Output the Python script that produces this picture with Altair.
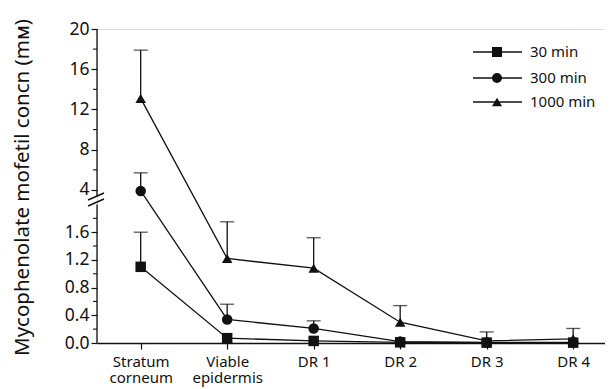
import altair as alt
import pandas as pd

categories = ["Stratum corneum", "Viable epidermis", "DR 1", "DR 2", "DR 3", "DR 4"]
series = ["30 min", "300 min", "1000 min"]
shapes = ["square", "circle", "triangle-up"]

mean_30 = [1.10, 0.07, 0.03, 0.01, 0.005, 0.005]
upper_30 = [1.60, None, None, None, None, None]
mean_300 = [3.90, 0.34, 0.21, 0.02, 0.01, 0.01]
upper_300 = [5.70, 0.56, 0.32, None, None, None]
mean_1000 = [13.1, 1.22, 1.08, 0.30, 0.03, 0.06]
upper_1000 = [17.9, 1.75, 1.52, 0.54, 0.16, 0.21]

major_ticks = [0, 0.4, 0.8, 1.2, 1.6, 4, 8, 12, 16, 20]
minor_ticks = [0.2, 0.6, 1.0, 1.4, 1.8, 6, 10, 14, 18]

# broken axis: lower segment 0-2.0, upper segment 3.4-20
y_domain = [0, 2.0, 3.4, 20]
y_range = [314, 175.5, 167, 0]
axis_segments = [(0, 2.0), (3.4, 20)]

rows = []
for s, means, ups in [("30 min", mean_30, upper_30),
                      ("300 min", mean_300, upper_300),
                      ("1000 min", mean_1000, upper_1000)]:
    for i, (c, m, u) in enumerate(zip(categories, means, ups)):
        rows.append({"idx": i, "cat": c, "series": s, "mean": m, "upper": u})
df = pd.DataFrame(rows)
err_df = df.dropna(subset=["upper"])

FONT = "Noto Sans"
INK = "#111111"

yscale = alt.Scale(domain=y_domain, range=y_range, nice=False, zero=False)
xscale = alt.Scale(domain=[-0.505, 5.368], nice=False, zero=False)

def js_label(c):
    if c.startswith("DR"):
        return "'" + c + "'"
    return "[" + ",".join("'" + p + "'" for p in c.split(" ")) + "]"

label_expr = "[" + ",".join(js_label(c) for c in categories) + "][datum.value]"

x_enc = alt.X(
    "idx:Q", scale=xscale, title=None,
    axis=alt.Axis(
        values=list(range(len(categories))), grid=False, tickCount=20,
        labelAngle=0, labelFont=FONT, labelFontSize=15, labelColor=INK,
        tickSize=6, tickColor=INK, tickWidth=1.2, domainColor=INK, domainWidth=1.3,
        labelPadding=5, labelLineHeight=16, labelOverlap=False, labelFlush=False,
        labelExpr=label_expr,
    ),
)
x_plain = alt.X("idx:Q", scale=xscale)
y_plain = alt.Y("mean:Q", scale=yscale)

shape_scale = alt.Scale(domain=series, range=shapes)

lines = alt.Chart(df).mark_line(color=INK, strokeWidth=1.3).encode(
    x=x_enc,
    y=alt.Y(
        "mean:Q", scale=yscale,
        title="Mycophenolate mofetil concn (mᴍ)",
        axis=alt.Axis(
            values=major_ticks, tickCount=30, domain=False, grid=False,
            labelOverlap=False, labelFlush=False, labelBound=False,
            labelExpr="datum.value < 3 ? format(datum.value, '.1f') : format(datum.value, 'd')",
            labelFont=FONT, labelFontSize=17.5, labelColor=INK, labelPadding=2,
            tickSize=6, tickColor=INK, tickWidth=1.2,
            titleFont=FONT, titleFontSize=20.5, titleFontWeight="normal", titleColor=INK,
            titleAngle=270, titleBaseline="middle", titleX=-75, titleY=158,
        ),
    ),
    detail="series:N",
)

points = alt.Chart(df).mark_point(filled=True, opacity=1, color=INK, size=110).encode(
    x=x_plain,
    y=y_plain,
    shape=alt.Shape("series:N", scale=shape_scale, legend=None),
)

err = alt.Chart(err_df).mark_rule(color=INK, strokeWidth=1.3).encode(
    x=x_plain,
    y=y_plain,
    y2="upper:Q",
)
caps = alt.Chart(err_df).mark_tick(color=INK, thickness=1.3, size=14,
                                   orient="horizontal").encode(
    x=x_plain,
    y=alt.Y("upper:Q", scale=yscale),
)

seg_df = pd.DataFrame([{"y0": a, "y1": b} for a, b in axis_segments])
axis_line = alt.Chart(seg_df).mark_rule(color=INK, strokeWidth=1.3).encode(
    x=alt.value(0),
    y=alt.Y("y0:Q", scale=yscale),
    y2="y1:Q",
)
minor_df = pd.DataFrame({"v": minor_ticks})
minor = alt.Chart(minor_df).mark_rule(color=INK, strokeWidth=1.1).encode(
    x=alt.value(-4), x2=alt.value(0),
    y=alt.Y("v:Q", scale=yscale),
)
one = pd.DataFrame({"k": [0]})
brk = alt.layer(
    alt.Chart(one).mark_rule(color=INK, strokeWidth=1.4).encode(
        x=alt.value(-9), x2=alt.value(7), y=alt.value(171), y2=alt.value(164)),
    alt.Chart(one).mark_rule(color=INK, strokeWidth=1.4).encode(
        x=alt.value(-9), x2=alt.value(7), y=alt.value(177), y2=alt.value(170)),
)

main = alt.layer(lines, err, caps, points, axis_line, minor, brk)

leg_df = pd.DataFrame({"series": series, "pos": list(range(len(series)))})
leg_y = alt.Y("pos:Q", scale=alt.Scale(domain=[0, 1, 2], range=[23, 49, 73],
                                       nice=False, zero=False), axis=None)
leg_line = alt.Chart(leg_df).mark_rule(color=INK, strokeWidth=1.3).encode(
    x=alt.value(376), x2=alt.value(425), y=leg_y)
leg_pt = alt.Chart(leg_df).mark_point(filled=True, opacity=1, color=INK, size=100).encode(
    x=alt.value(400), y=leg_y,
    shape=alt.Shape("series:N", scale=shape_scale, legend=None))
leg_txt = alt.Chart(leg_df).mark_text(align="left", baseline="middle", font=FONT,
                                      fontSize=15, color=INK).encode(
    x=alt.value(433), y=leg_y, text="series:N")
legend = alt.layer(leg_line, leg_pt, leg_txt)

chart = alt.layer(main, legend).resolve_scale(y="independent").properties(
    width=508, height=314,
    autosize=alt.AutoSizeParams(type="none"),
    padding={"left": 89, "top": 21, "right": 0, "bottom": 46},
).configure_view(stroke=None).configure_axis(
    labelOverlap=False
).configure(background="white")

chart.save("out.html", embed_options={"renderer": "svg", "actions": False})
